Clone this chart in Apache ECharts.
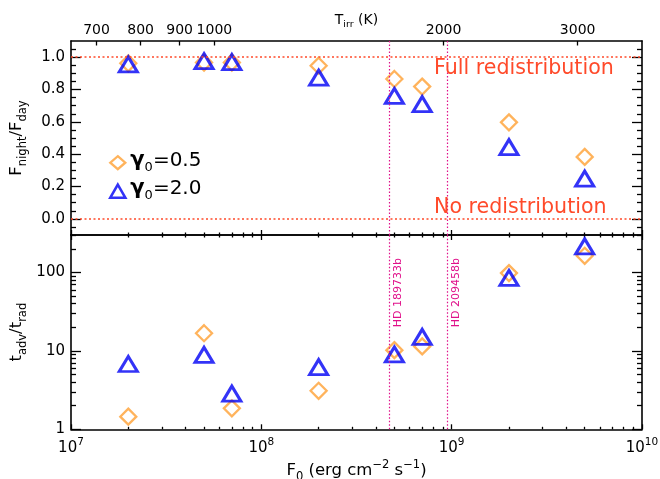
<!DOCTYPE html>
<html><head><meta charset="utf-8">
<script src="https://cdn.jsdelivr.net/npm/echarts@6/dist/echarts.min.js"></script>
<style>html,body{margin:0;padding:0;background:#fff}#c{width:660px;height:479px}</style>
</head><body><div id="c"></div>
<script>
// ---- data ----
const fluxes = [2e7, 5e7, 7e7, 2e8, 5e8, 7e8, 2e9, 5e9];
const ratioGamma05 = [0.962, 0.967, 0.967, 0.947, 0.865, 0.818, 0.597, 0.383];
const ratioGamma20 = [0.955, 0.975, 0.970, 0.873, 0.760, 0.710, 0.444, 0.249];
const timeGamma05 = [1.45, 16.8, 1.85, 3.1, 10.2, 11.4, 98, 163];
const timeGamma20 = [6.8, 8.9, 2.85, 6.2, 9.0, 15.1, 85, 215];
const planetNames = ['HD 189733b', 'HD 209458b'];
const planetFluxes = [4.7e8, 9.5e8];
const redistLevels = [1.0, 0.0];
const redistLabels = ['Full redistribution', 'No redistribution'];
const fluxTicks = [1e7, 1e8, 1e9, 1e10];
const tirrTicks = [700, 800, 900, 1000, 2000, 3000];
const ratioTicks = [0.0, 0.2, 0.4, 0.6, 0.8, 1.0];
const timeTicks = [1, 10, 100];
const SIGMA = 5.67e-5;

// ---- styling ----
const FONT = 'DejaVu Sans';
const ORANGE = '#FFA033';
const BLUE = '#0000F5';
const RED = '#FF4A2A';
const MAG = '#E0108A';
const N05 = 'g05', N20 = 'g20';

const minorFlux = [];
for (let d = 7; d < 10; d++) for (let m = 2; m <= 9; m++) minorFlux.push(m * Math.pow(10, d));
const minorTime = [];
for (let d = 0; d < 3; d++) for (let m = 2; m <= 9; m++) { const v = m * Math.pow(10, d); if (v <= 300) minorTime.push(v); }
const minorRatio = [];
for (let k = -1; k <= 21; k++) { if (k % 4 !== 0) minorRatio.push(+(k * 0.05).toFixed(2)); }
const tirrFlux = tirrTicks.map(T => SIGMA * Math.pow(T, 4));

const AXLINE = { show: true, onZero: false, lineStyle: { color: '#000', width: 1.6 } };
const NOLINE = { show: false, onZero: false };
function tick(vals, len) { return { show: true, inside: true, length: len, customValues: vals, lineStyle: { color: '#000', width: 1.3 } }; }
const NOLABEL = { show: false };
const base = { splitLine: { show: false }, silent: true, nameMoveOverlap: false };

const richText = {
  n: { fontFamily: FONT, fontSize: 16.5, color: '#000', verticalAlign: 'bottom', padding: [0, 0, 4, 0] },
  sub: { fontFamily: FONT, fontSize: 11.5, color: '#000', verticalAlign: 'bottom', padding: [0, 0, 0, 0] },
  sup: { fontFamily: FONT, fontSize: 11.5, color: '#000', verticalAlign: 'bottom', padding: [0, 0, 12, 0] }
};
const richTop = {
  n: { fontFamily: FONT, fontSize: 14, color: '#000', verticalAlign: 'bottom', padding: [0, 0, 3, 0] },
  sub: { fontFamily: FONT, fontSize: 9.5, color: '#000', verticalAlign: 'bottom' }
};
const richTick = {
  n: { fontFamily: FONT, fontSize: 15, color: '#000', verticalAlign: 'bottom' },
  sup: { fontFamily: FONT, fontSize: 10.5, color: '#000', verticalAlign: 'bottom', padding: [0, 0, 8, 0] }
};

function fLog(grid, pos, extra) {
  return Object.assign({ type: 'log', gridIndex: grid, position: pos, min: 1e7, max: 1e10, axisLabel: NOLABEL, axisLine: NOLINE }, base, extra);
}
function yRatio(pos, extra) {
  return Object.assign({ type: 'value', gridIndex: 0, position: pos, min: -0.1, max: 1.1, axisLabel: NOLABEL, axisLine: NOLINE }, base, extra);
}
function yTime(pos, extra) {
  return Object.assign({ type: 'log', gridIndex: 1, position: pos, min: 1, max: 300, axisLabel: NOLABEL, axisLine: NOLINE }, base, extra);
}

const xAxis = [
  fLog(0, 'bottom', { axisLine: AXLINE, axisTick: tick(fluxTicks, 5) }),
  fLog(0, 'bottom', { axisTick: tick(minorFlux, 2.5) }),
  fLog(0, 'top', {
    axisLine: AXLINE, axisTick: tick(tirrFlux, 4.5),
    axisLabel: { show: true, customValues: tirrFlux, margin: 4, fontFamily: FONT, fontSize: 14, color: '#000',
      formatter: v => String(Math.round(Math.pow(v / SIGMA, 0.25))) },
    name: '{n|T}{sub|irr}{n| (K)}', nameLocation: 'middle', nameGap: 11,
    nameTextStyle: { rich: richTop }
  }),
  fLog(1, 'bottom', {
    axisLine: AXLINE, axisTick: tick(fluxTicks, 5),
    axisLabel: { show: true, customValues: fluxTicks, margin: 7,
      formatter: v => '{n|10}{sup|' + Math.round(Math.log10(v)) + '}', rich: richTick },
    name: '{n|F}{sub|0}{n| (erg cm}{sup|−2}{n| s}{sup|−1}{n|)}', nameLocation: 'middle', nameGap: 30,
    nameTextStyle: { rich: richText }
  }),
  fLog(1, 'bottom', { axisTick: tick(minorFlux, 2.5) }),
  fLog(1, 'top', { axisLine: AXLINE, axisTick: tick(fluxTicks, 5) }),
  fLog(1, 'top', { axisTick: tick(minorFlux, 2.5) })
];

const yAxis = [
  yRatio('left', {
    axisLine: AXLINE, axisTick: tick(ratioTicks, 10),
    axisLabel: { show: true, customValues: ratioTicks, margin: 6, fontFamily: FONT, fontSize: 15, color: '#000', formatter: v => v.toFixed(1) },
    name: '{n|F}{sub|night}{n|/F}{sub|day}', nameLocation: 'middle', nameGap: 42, nameTextStyle: { rich: richText }
  }),
  yRatio('left', { axisTick: tick(minorRatio, 5) }),
  yRatio('right', { axisLine: AXLINE, axisTick: tick(ratioTicks, 10) }),
  yRatio('right', { axisTick: tick(minorRatio, 5) }),
  yTime('left', {
    axisLine: AXLINE, axisTick: tick(timeTicks, 10),
    axisLabel: { show: true, customValues: timeTicks, margin: 6, fontFamily: FONT, fontSize: 15, color: '#000', formatter: v => String(Math.round(v)) },
    name: '{n|t}{sub|adv}{n|/t}{sub|rad}', nameLocation: 'middle', nameGap: 42, nameTextStyle: { rich: richText }
  }),
  yTime('left', { axisTick: tick(minorTime, 5) }),
  yTime('right', { axisLine: AXLINE, axisTick: tick(timeTicks, 10) }),
  yTime('right', { axisTick: tick(minorTime, 5) })
];

const zip = (xs, ys) => xs.map((x, i) => [x, ys[i]]);
const diamondStyle = { color: 'rgba(0,0,0,0)', borderColor: ORANGE, borderWidth: 2.3 };
const triStyle = { color: 'rgba(0,0,0,0)', borderColor: BLUE, borderWidth: 3 };

const series = [
  {
    type: 'scatter', name: N05, xAxisIndex: 0, yAxisIndex: 0, data: zip(fluxes, ratioGamma05),
    symbol: 'diamond', symbolSize: 16, itemStyle: diamondStyle, z: 3,
    markLine: {
      silent: true, symbol: ['none', 'none'], animation: false,
      data: redistLevels.map((v, i) => ({
        yAxis: v, lineStyle: { color: RED, type: [2, 2.5], width: 1.5 },
        label: { show: true, formatter: redistLabels[i], position: i === 0 ? 'insideStartBottom' : 'insideStartTop',
          distance: [363, 1], color: RED, fontFamily: FONT, fontSize: 20.6 }
      })).concat(planetFluxes.map(f => ({
        xAxis: f, lineStyle: { color: MAG, type: [1.5, 2], width: 1.2 }, label: { show: false }
      })))
    }
  },
  {
    type: 'scatter', name: N20, xAxisIndex: 0, yAxisIndex: 0, data: zip(fluxes, ratioGamma20),
    symbol: 'triangle', symbolSize: [18, 15], itemStyle: triStyle, z: 4
  },
  {
    type: 'scatter', name: N05, xAxisIndex: 3, yAxisIndex: 4, data: zip(fluxes, timeGamma05),
    symbol: 'diamond', symbolSize: 16, itemStyle: diamondStyle, z: 3,
    markLine: {
      silent: true, symbol: ['none', 'none'], animation: false,
      data: planetFluxes.map((f, i) => ({
        xAxis: f, lineStyle: { color: MAG, type: [1.5, 2], width: 1.2 },
        label: { show: true, formatter: planetNames[i], position: 'insideEndBottom', distance: [23, 3.5],
          color: MAG, fontFamily: FONT, fontSize: 11 }
      }))
    }
  },
  {
    type: 'scatter', name: N20, xAxisIndex: 3, yAxisIndex: 4, data: zip(fluxes, timeGamma20),
    symbol: 'triangle', symbolSize: [18, 15], itemStyle: triStyle, z: 4
  }
];

const legendNames = { [N05]: '0.5', [N20]: '2.0' };
const chart = echarts.init(document.getElementById('c'), null, { renderer: 'canvas' });
chart.setOption({
  animation: false,
  backgroundColor: '#fff',
  grid: [
    { left: 71, right: 18, top: 41, height: 194, outerBoundsMode: 'none' },
    { left: 71, right: 18, top: 235, height: 194.3, outerBoundsMode: 'none' }
  ],
  legend: {
    orient: 'vertical', left: 104, top: 144.7, itemWidth: 15, itemHeight: 13, itemGap: 4.5,
    selectedMode: false, symbolKeepAspect: false,
    data: [
      { name: N05, icon: 'diamond', itemStyle: { color: 'rgba(0,0,0,0)', borderColor: ORANGE, borderWidth: 2.3 } },
      { name: N20, icon: 'triangle', itemStyle: { color: 'rgba(0,0,0,0)', borderColor: BLUE, borderWidth: 2.6 } }
    ],
    formatter: name => '{g|γ}{s|0}{n|=' + legendNames[name] + '}',
    textStyle: {
      lineHeight: 22, padding: [0, 0, 0, 0],
      rich: {
        g: { fontFamily: FONT, fontSize: 21, fontWeight: 'bold', color: '#000', verticalAlign: 'bottom', padding: [0, 0, 3, 0] },
        s: { fontFamily: FONT, fontSize: 13, color: '#000', verticalAlign: 'bottom' },
        n: { fontFamily: FONT, fontSize: 20, color: '#000', verticalAlign: 'bottom', padding: [0, 0, 3, 0] }
      }
    }
  },
  xAxis: xAxis,
  yAxis: yAxis,
  series: series
});
</script></body></html>
